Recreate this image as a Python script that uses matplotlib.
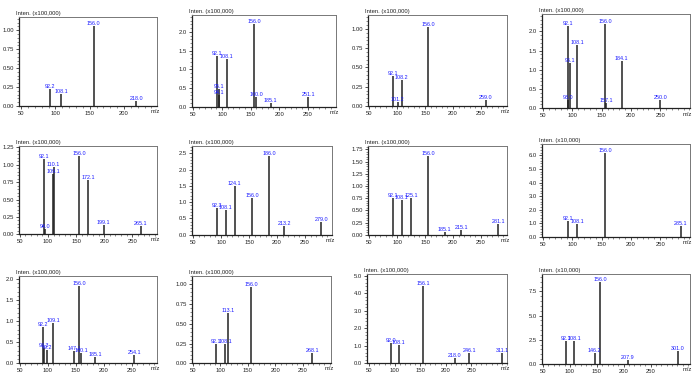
import matplotlib
matplotlib.use('Agg')
import matplotlib.pyplot as plt
from matplotlib.ticker import MultipleLocator, FixedLocator

W, H = 700, 381
plt.rcParams['font.family'] = ['Liberation Sans', 'DejaVu Sans']

# ---------------- data (m/z, intensity in axis units) ----------------
mz1 = [92.2, 108.1, 156.0, 218.0]
in1 = [0.22, 0.16, 1.05, 0.07]
mz2 = [92.1, 94.1, 95.1, 108.1, 156.0, 160.0, 185.1, 251.1]
in2 = [1.35, 0.31, 0.47, 1.28, 2.20, 0.27, 0.09, 0.27]
mz3 = [92.1, 101.2, 108.2, 156.0, 259.0]
in3 = [0.39, 0.05, 0.34, 1.03, 0.08]
mz4 = [92.1, 93.0, 96.1, 108.1, 156.0, 157.1, 184.1, 250.0]
in4 = [2.15, 0.22, 1.17, 1.65, 2.20, 0.13, 1.22, 0.22]
mz5 = [92.1, 94.0, 109.1, 110.1, 156.0, 172.1, 199.1, 265.1]
in5 = [1.08, 0.08, 0.87, 0.97, 1.12, 0.78, 0.13, 0.12]
mz6 = [92.3, 108.1, 124.1, 156.0, 186.0, 213.2, 279.0]
in6 = [0.82, 0.75, 1.50, 1.13, 2.41, 0.26, 0.39]
mz7 = [92.1, 108.1, 125.1, 156.0, 185.1, 215.1, 281.1]
in7 = [0.75, 0.72, 0.75, 1.61, 0.05, 0.09, 0.21]
mz8 = [92.1, 108.1, 156.0, 285.1]
in8 = [1.14, 0.92, 6.20, 0.78]
mz9 = [92.2, 93.3, 99.2, 109.1, 147.1, 156.0, 160.1, 185.1, 254.1]
in9 = [0.87, 0.36, 0.32, 0.95, 0.28, 1.84, 0.24, 0.14, 0.20]
mz10 = [92.1, 108.1, 113.1, 156.0, 268.1]
in10 = [0.25, 0.25, 0.64, 0.97, 0.13]
mz11 = [92.0, 108.1, 156.1, 218.0, 246.1, 311.1]
in11 = [1.14, 1.07, 4.44, 0.30, 0.57, 0.59]
mz12 = [92.1, 108.1, 146.2, 156.0, 207.9, 301.0]
in12 = [2.35, 2.35, 1.10, 8.47, 0.41, 1.31]

scales = ['(x100,000)', '(x100,000)', '(x100,000)', '(x100,000)',
          '(x100,000)', '(x100,000)', '(x100,000)', '(x10,000)',
          '(x100,000)', '(x100,000)', '(x100,000)', '(x10,000)']
ysteps = [0.25, 0.5, 0.25, 0.5, 0.25, 0.5, 0.25, 1.0, 0.5, 0.25, 1.0, 2.5]
ymaxs = [1.17, 2.45, 1.18, 2.45, 1.27, 2.73, 1.82, 6.85, 2.06, 1.10, 5.1, 9.3]
xlims = [(47, 248.5), (48, 299.6), (48.5, 297), (48.5, 301),
         (48.5, 294.5), (48.5, 299), (48.5, 297), (48.5, 301),
         (48.5, 295.7), (48.5, 302), (46.2, 321), (48.5, 323.5)]
# frame rects in pixels: left, right, top, bottom
rects = [(19, 157.3, 17.3, 106), (192.3, 336, 15, 106.7), (368.3, 507.3, 15, 106), (542.3, 690, 14, 108.3),
         (19, 157.3, 146, 234.3), (192.3, 332.3, 146, 234.7), (368.3, 507.3, 146, 234.7), (542.3, 690, 143.7, 237),
         (19, 157.3, 276.3, 363.3), (192.3, 331, 276.3, 363.3), (367.3, 507.3, 274, 363.3), (542.3, 690, 274, 364)]

mzs = [mz1, mz2, mz3, mz4, mz5, mz6, mz7, mz8, mz9, mz10, mz11, mz12]
ins = [in1, in2, in3, in4, in5, in6, in7, in8, in9, in10, in11, in12]

fig = plt.figure(figsize=(W / 100, H / 100), dpi=100)
fig.patch.set_facecolor('white')

fs = 4.2     # tick / axis text
fl = 3.9     # peak labels
for i in range(12):
    l, r, t, b = rects[i]
    ax = fig.add_axes([l / W, 1 - b / H, (r - l) / W, (b - t) / H])
    mz, it = mzs[i], ins[i]
    ax.vlines(mz, 0, it, color='#222222', lw=1.1)
    for m, v in zip(mz, it):
        ax.text(m, v, f'{m:.1f}', color='#1a1aff', fontsize=fl, ha='center', va='bottom')
    ax.set_xlim(*xlims[i])
    ax.set_ylim(0, ymaxs[i])
    step = ysteps[i]
    n = int(ymaxs[i] / step + 1e-6)
    yt = [k * step for k in range(n + 1)]
    ax.yaxis.set_major_locator(FixedLocator(yt))
    dec = 2 if step == 0.25 else 1
    ax.set_yticklabels([f'{v:.{dec}f}' for v in yt])
    ax.yaxis.set_minor_locator(MultipleLocator(step / 5))
    xt = [v for v in range(50, 251, 50) if v < xlims[i][1] - 15]
    ax.xaxis.set_major_locator(FixedLocator(xt))
    ax.set_xticklabels([str(v) for v in xt])
    ax.xaxis.set_minor_locator(MultipleLocator(10))
    ax.tick_params(axis='both', which='major', labelsize=fs, length=2.2, width=0.6,
                   pad=1.5, colors='#333333', labelcolor='#222222')
    ax.tick_params(axis='both', which='minor', length=1.2, width=0.4, colors='#333333')
    for s in ['left', 'bottom']:
        ax.spines[s].set_color('#222222')
        ax.spines[s].set_linewidth(0.9)
    for s in ['top', 'right']:
        ax.spines[s].set_color('#777777')
        ax.spines[s].set_linewidth(0.7)
    ax.text(0.985, -0.035, 'm/z', transform=ax.transAxes, fontsize=fs, ha='center', va='top', color='#222222')
    ax.text(-3.0 / (r - l), 1.01, 'Inten. ' + scales[i], transform=ax.transAxes, fontsize=fs,
            ha='left', va='bottom', color='#222222')

fig.savefig('out.png', dpi=100, facecolor='white')
